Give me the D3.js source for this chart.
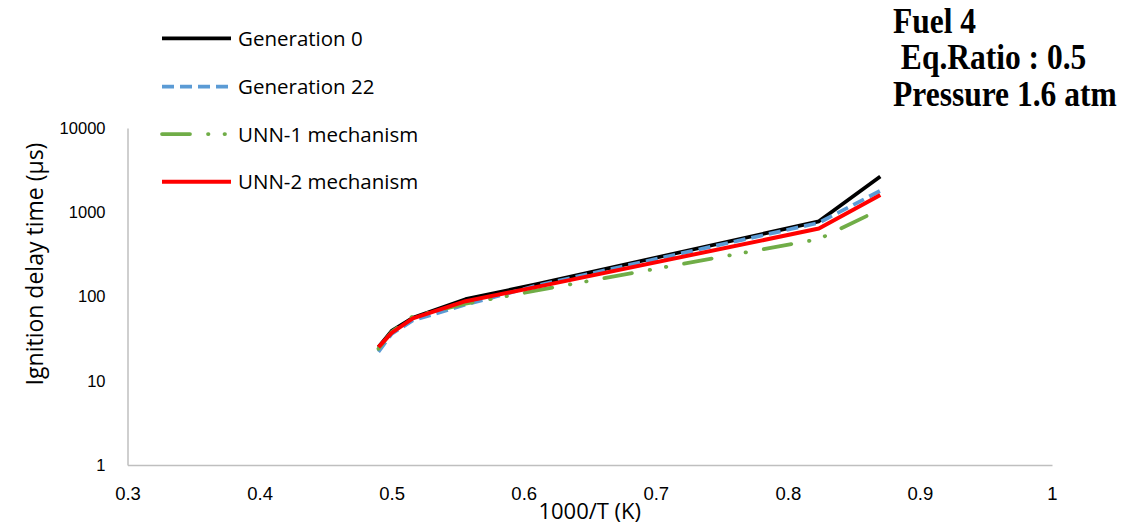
<!DOCTYPE html>
<html>
<head>
<meta charset="utf-8">
<script src="https://cdn.jsdelivr.net/npm/d3@7/dist/d3.min.js"></script>
<style>
  body { margin: 0; background: #fff; }
  svg { display: block; font-family: "Open Sans", sans-serif; }
</style>
</head>
<body>
<div id="chart"></div>
<script>
// values: 1000/T and ignition delay (µs)
var xVals = [0.49, 0.50, 0.516, 0.556, 0.61, 0.8235, 0.87];
var gen0 = [25, 39, 56, 93, 140, 780, 2650];
var gen22 = [22, 36, 52, 80, 135, 750, 1800];
var unn1 = [24, 38, 58, 82, 118, 480, 1080];
var unn2 = [25, 37, 55, 88, 130, 640, 1600];
var seriesNames = ["Generation 0", "Generation 22", "UNN-1 mechanism", "UNN-2 mechanism"];
var xTicks = [0.3, 0.4, 0.5, 0.6, 0.7, 0.8, 0.9, 1];
var yTicks = [1, 10, 100, 1000, 10000];
var titleLines = ["Fuel 4", " Eq.Ratio : 0.5", "Pressure 1.6 atm"];

var width = 1145;
var height = 528;
var plot = { left: 127.5, right: 1052, top: 128, bottom: 465 };

var svg = d3.select('#chart')
    .append("svg")
    .attr("width", width)
    .attr("height", height);

var xScale = d3.scaleLinear()
    .domain([0.3, 1])
    .range([plot.left, plot.right]);
var yScale = d3.scaleLog()
    .domain([1, 10000])
    .range([plot.bottom, plot.top]);

// line styles per series
var styles = [
    { color: "#000000", w: 3.75, dash: null, cap: "butt" },
    { color: "#5b9bd5", w: 3.75, dash: "12,6", cap: "butt" },
    { color: "#70ad47", w: 3.75, dash: "28,18,0.5,16,0.5,18", cap: "round" },
    { color: "#ff0000", w: 4, dash: null, cap: "butt" }
];

var series = [gen0, gen22, unn1, unn2].map(function (vals, i) {
    return {
        name: seriesNames[i],
        style: styles[i],
        points: vals.map(function (v, j) { return { x: xVals[j], y: v }; })
    };
});

// axes
var xAxis = svg.append("g")
    .attr("transform", "translate(0," + plot.bottom + ")")
    .call(d3.axisBottom(xScale)
        .tickValues(xTicks)
        .tickFormat(d3.format("~g"))
        .tickSize(0)
        .tickSizeOuter(0)
        .tickPadding(22));
var yAxis = svg.append("g")
    .attr("transform", "translate(" + plot.left + ",0)")
    .call(d3.axisLeft(yScale)
        .tickValues(yTicks)
        .tickFormat(d3.format("d"))
        .tickSize(0)
        .tickSizeOuter(0)
        .tickPadding(22));

svg.selectAll(".domain")
    .attr("stroke", "#bfbfbf")
    .attr("stroke-width", 1.5);
xAxis.selectAll("text")
    .style("font-size", "18.5px")
    .style("fill", "#000");
yAxis.selectAll("text")
    .style("font-size", "16.5px")
    .style("fill", "#000");

// axis titles
svg.append("text")
    .attr("transform", "translate(43,264) rotate(-90)")
    .attr("text-anchor", "middle")
    .style("font-size", "23px")
    .text("Ignition delay time (µs)");
svg.append("text")
    .attr("x", (plot.left + plot.right) / 2)
    .attr("y", 519)
    .attr("text-anchor", "middle")
    .style("font-size", "22px")
    .text("1000/T (K)");

// lines
var line = d3.line()
    .x(function (d) { return xScale(d.x); })
    .y(function (d) { return yScale(d.y); });

svg.append("g")
    .selectAll("path")
    .data(series)
    .enter()
    .append("path")
    .attr("d", function (d) { return line(d.points); })
    .attr("fill", "none")
    .attr("stroke", function (d) { return d.style.color; })
    .attr("stroke-width", function (d) { return d.style.w; })
    .attr("stroke-dasharray", function (d) { return d.style.dash; })
    .attr("stroke-linecap", function (d) { return d.style.cap; })
    .attr("stroke-linejoin", "round");

// legend
var legendRows = [38.3, 86.7, 134, 181.7];
var legend = svg.append("g")
    .selectAll(".leg")
    .data(series)
    .enter()
    .append("g")
    .classed("leg", true)
    .attr("transform", function (d, i) { return "translate(0," + legendRows[i] + ")"; });
legend.append("line")
    .attr("x1", 162)
    .attr("x2", 231)
    .attr("stroke", function (d) { return d.style.color; })
    .attr("stroke-width", function (d) { return d.style.w; })
    .attr("stroke-dasharray", function (d) { return d.style.dash; })
    .attr("stroke-linecap", function (d) { return d.style.cap; });
legend.append("text")
    .attr("x", 238)
    .attr("y", 7.5)
    .style("font-size", "20.5px")
    .text(function (d) { return d.name; });

// annotation
svg.append("g")
    .selectAll("text")
    .data(titleLines)
    .enter()
    .append("text")
    .attr("transform", function (d, i) { return "translate(893," + [33, 69, 106][i] + ") scale(1,1.12)"; })
    .attr("xml:space", "preserve")
    .style("font-family", "'Liberation Serif', 'Times New Roman', serif")
    .style("font-weight", "bold")
    .style("font-size", "31.5px")
    .style("white-space", "pre")
    .text(function (d) { return d; });
</script>
</body>
</html>
